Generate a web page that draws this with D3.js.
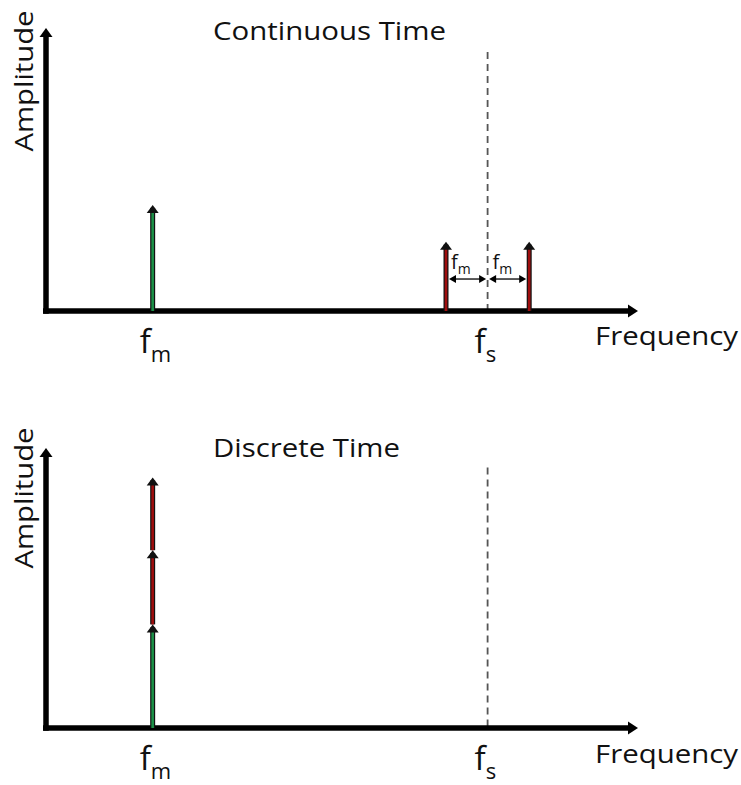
<!DOCTYPE html>
<html>
<head>
<meta charset="utf-8">
<script src="https://cdn.jsdelivr.net/npm/d3@7"></script>
<style>
  html, body { margin: 0; padding: 0; background: #fff; }
  svg { display: block; font-family: "Open Sans", "Noto Sans", sans-serif; }
</style>
</head>
<body>
<svg id="chart" width="741" height="785"></svg>
<script>
// ---------- Data ----------
const panelTitles = ["Continuous Time", "Discrete Time"];
const axisLabelX = "Frequency";
const axisLabelY = "Amplitude";
// frequency (arbitrary schematic units)
const fm = 1.0;
const fs = 4.14;
const fmOffset = 0.39;                   // schematic spacing of the images around fs
const tickLabels = [
  { f: fm, base: "f", sub: "m" },
  { f: fs, base: "f", sub: "s" }
];
// Continuous-time spectrum lines
const ctFreqs  = [fm, fs - fmOffset, fs + fmOffset];
const ctAmps   = [0.375, 0.245, 0.245];
const ctColors = ["green", "red", "red"];
// Discrete-time: aliased components stacked at fm
const dtFreq     = fm;
const dtSegments = [0.37, 0.265, 0.26];
const dtColors   = ["green", "red", "red"];
const dashedHeight = [0.915, 0.93];
const fmArrowAmp = 0.113;

const colorMap = { green: "#1c9148", red: "#9e0e0e" };

// ---------- Layout ----------
const svg = d3.select("#chart");
const x = d3.scaleLinear().domain([0, 5.55]).range([46, 638]);
const panels = [
  { y: d3.scaleLinear().domain([0, 1]).range([311, 28]), titleY: 40, labelY: 353, freqY: 345 },
  { y: d3.scaleLinear().domain([0, 1]).range([728, 448]), titleY: 457, labelY: 770, freqY: 763 }
];

function arrowHead(g, cx, tipY, w, h, fill) {
  g.append("path")
    .attr("d", `M${cx},${tipY} L${cx - w / 2},${tipY + h} L${cx + w / 2},${tipY + h} Z`)
    .attr("fill", fill);
}

function spectralLine(g, f, y0v, y1v, yScale, color) {
  const cx = x(f);
  const yb = yScale(y0v), yt = yScale(y1v);
  g.append("line").attr("x1", cx).attr("x2", cx).attr("y1", yb).attr("y2", yt + 3)
    .attr("stroke", "#111").attr("stroke-width", 5);
  g.append("line").attr("x1", cx).attr("x2", cx).attr("y1", yb).attr("y2", yt + 5)
    .attr("stroke", colorMap[color]).attr("stroke-width", 2.6);
  arrowHead(g, cx, yt, 12, 8, "#111");
}

panels.forEach((p, i) => {
  const g = svg.append("g");
  const y = p.y;
  const x0 = x.range()[0];
  const axisX0 = x0 - 3;

  // dashed fs line
  g.append("line")
    .attr("x1", x(fs)).attr("x2", x(fs))
    .attr("y1", y(dashedHeight[i])).attr("y2", y(0))
    .attr("stroke", "#555").attr("stroke-width", 1.8)
    .attr("stroke-dasharray", "7,5");

  // axes
  g.append("line").attr("x1", axisX0).attr("x2", x.range()[1] - 8)
    .attr("y1", y(0)).attr("y2", y(0))
    .attr("stroke", "#000").attr("stroke-width", 5.5);
  g.append("path")
    .attr("d", `M${x.range()[1]},${y(0)} L${x.range()[1] - 10},${y(0) - 6.5} L${x.range()[1] - 10},${y(0) + 6.5} Z`)
    .attr("fill", "#000");
  g.append("line").attr("x1", x0).attr("x2", x0)
    .attr("y1", y(0) + 2.7).attr("y2", y(1) + 7)
    .attr("stroke", "#000").attr("stroke-width", 5.5);
  arrowHead(g, x0, y(1), 13, 9, "#000");

  // spectral content
  if (i === 0) {
    ctFreqs.forEach((f, k) => spectralLine(g, f, 0, ctAmps[k], y, ctColors[k]));
    // fm spacing double arrows
    const ay = y(fmArrowAmp);
    [[ctFreqs[1], fs], [fs, ctFreqs[2]]].forEach(([a, b]) => {
      const xa = x(a) + 3, xb = x(b) - (b === fs ? 1.5 : 3);
      const xa2 = a === fs ? x(a) + 1.5 : xa;
      g.append("line").attr("x1", xa2 + 5).attr("x2", xb - 5).attr("y1", ay).attr("y2", ay)
        .attr("stroke", "#000").attr("stroke-width", 1.3);
      g.append("path").attr("d", `M${xa2},${ay} L${xa2 + 7},${ay - 4} L${xa2 + 7},${ay + 4} Z`).attr("fill", "#000");
      g.append("path").attr("d", `M${xb},${ay} L${xb - 7},${ay - 4} L${xb - 7},${ay + 4} Z`).attr("fill", "#000");
      const t = g.append("text").attr("x", (x(a) + x(b)) / 2 - 6).attr("y", ay - 10)
        .attr("text-anchor", "middle").attr("font-size", 20).attr("fill", "#111");
      t.append("tspan").text("f");
      t.append("tspan").attr("font-size", 14).attr("dy", 5).text("m");
    });
  } else {
    let acc = 0;
    dtSegments.forEach((s, k) => {
      spectralLine(g, dtFreq, acc, acc + s, y, dtColors[k]);
      acc += s;
    });
  }

  // title
  g.append("text").attr("x", 213).attr("y", p.titleY)
    .attr("font-size", 25).attr("fill", "#111")
    .attr("textLength", i === 0 ? 233 : 187).attr("lengthAdjust", "spacingAndGlyphs")
    .text(panelTitles[i]);

  // y label
  g.append("text")
    .attr("transform", `translate(33,${i === 0 ? 81 : 498}) rotate(-90)`)
    .attr("text-anchor", "middle").attr("font-size", 25).attr("fill", "#111")
    .attr("textLength", 141).attr("lengthAdjust", "spacingAndGlyphs")
    .text(axisLabelY);

  // x label
  g.append("text").attr("x", 595).attr("y", p.freqY)
    .attr("font-size", 25).attr("fill", "#111")
    .attr("textLength", 143).attr("lengthAdjust", "spacingAndGlyphs")
    .text(axisLabelX);

  // tick labels
  tickLabels.forEach(tl => {
    const t = g.append("text").attr("x", x(tl.f) - 13).attr("y", p.labelY)
      .attr("font-size", 33).attr("fill", "#111");
    t.append("tspan").text(tl.base);
    t.append("tspan").attr("font-size", 22).attr("dy", 9).text(tl.sub);
  });
});
</script>
</body>
</html>
